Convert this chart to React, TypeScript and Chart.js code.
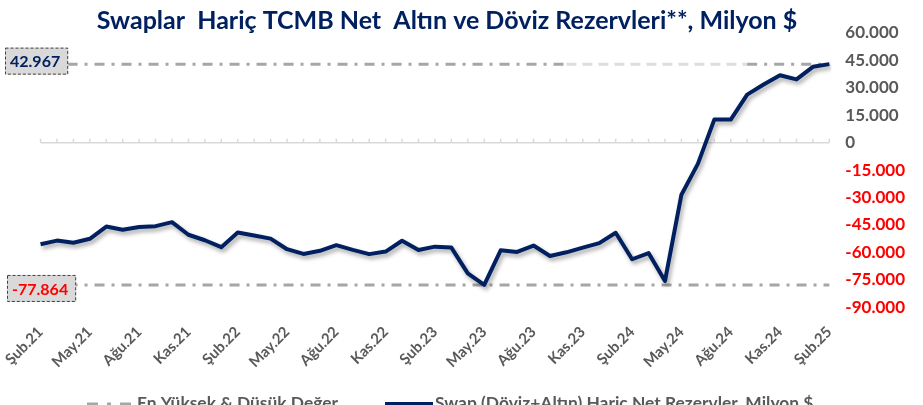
import React, { useEffect, useRef } from 'react';
import { Chart, registerables } from 'chart.js';

Chart.register(...registerables);

const categories: string[] = [
  'Şub.21', 'Mar.21', 'Nis.21', 'May.21', 'Haz.21', 'Tem.21', 'Ağu.21', 'Eyl.21', 'Eki.21', 'Kas.21', 'Ara.21',
  'Oca.22', 'Şub.22', 'Mar.22', 'Nis.22', 'May.22', 'Haz.22', 'Tem.22', 'Ağu.22', 'Eyl.22', 'Eki.22', 'Kas.22', 'Ara.22',
  'Oca.23', 'Şub.23', 'Mar.23', 'Nis.23', 'May.23', 'Haz.23', 'Tem.23', 'Ağu.23', 'Eyl.23', 'Eki.23', 'Kas.23', 'Ara.23',
  'Oca.24', 'Şub.24', 'Mar.24', 'Nis.24', 'May.24', 'Haz.24', 'Tem.24', 'Ağu.24', 'Eyl.24', 'Eki.24', 'Kas.24', 'Ara.24',
  'Oca.25', 'Şub.25',
];

const netReserves: number[] = [
  -55600, -53600, -54800, -52600, -45900, -47700, -46200, -45700, -43500, -50400, -53400,
  -57200, -49200, -50800, -52500, -58300, -60900, -59200, -56100, -58700, -61000, -59600, -53700,
  -58700, -56900, -57400, -71500, -77864, -58900, -59800, -56300, -62000, -60000, -57400, -55000,
  -49300, -63800, -60400, -75700, -28500, -11600, 12600, 12600, 26300, 31800, 36900, 34600,
  41500, 42967,
];

const yTicks: number[] = [60000, 45000, 30000, 15000, 0, -15000, -30000, -45000, -60000, -75000, -90000];

const TITLE = 'Swaplar  Hariç TCMB Net  Altın ve Döviz Rezervleri**, Milyon $';
const LEGEND_EXTREMES = 'En Yüksek & Düşük Değer';
const LEGEND_SERIES = 'Swap (Döviz+Altın) Hariç Net Rezervler, Milyon $';

const maxValue = Math.max(...netReserves);
const minValue = Math.min(...netReserves);
const maxLine = categories.map(() => maxValue);
const minLine = categories.map(() => minValue);

const NAVY = '#002060';
const GRAY_TXT = '#595959';
const REF_GRAY = '#A6A6A6';
const FONT = 'Lato, "Liberation Sans", sans-serif';
const DASH_DOT = [10, 7, 3, 7];

function fmt(v: number): string {
  const s = Math.abs(v).toString().replace(/\B(?=(\d{3})+(?!\d))/g, '.');
  return (v < 0 ? '-' : '') + s;
}

const zeroAxisPlugin = {
  id: 'zeroAxis',
  beforeDatasetsDraw(chart: any) {
    const { ctx, chartArea, scales } = chart;
    const y0 = scales.y.getPixelForValue(0);
    ctx.save();
    ctx.strokeStyle = '#D9D9D9';
    ctx.lineWidth = 1.5;
    ctx.beginPath();
    ctx.moveTo(chartArea.left, y0);
    ctx.lineTo(chartArea.right, y0);
    for (let i = 0; i < categories.length; i++) {
      const x = scales.x.getPixelForValue(i);
      ctx.moveTo(x, y0);
      ctx.lineTo(x, y0 - 4);
    }
    ctx.stroke();
    ctx.restore();
  },
};

const shadowPlugin = {
  id: 'lineShadow',
  beforeDatasetDraw(chart: any, args: any) {
    if (args.index !== 0) return;
    const ctx = chart.ctx;
    ctx.save();
    ctx.shadowColor = 'rgba(0,0,0,0.35)';
    ctx.shadowBlur = 4;
    ctx.shadowOffsetX = 2;
    ctx.shadowOffsetY = 3;
  },
  afterDatasetDraw(chart: any, args: any) {
    if (args.index !== 0) return;
    chart.ctx.restore();
  },
};

const boxesPlugin = {
  id: 'valueBoxes',
  afterDatasetsDraw(chart: any) {
    const { ctx, scales } = chart;
    const items = [
      { v: maxValue, color: NAVY, left: 5, dy: -3 },
      { v: minValue, color: '#FF0000', left: 7, dy: 3.5 },
    ];
    ctx.save();
    ctx.font = `bold 16px ${FONT}`;
    for (const it of items) {
      const y = scales.y.getPixelForValue(it.v) + it.dy;
      const text = fmt(it.v);
      const w = ctx.measureText(text).width + 13;
      const h = 27;
      ctx.fillStyle = '#D9D9D9';
      ctx.fillRect(it.left, y - h / 2, w, h);
      ctx.setLineDash([3, 2]);
      ctx.strokeStyle = '#404040';
      ctx.lineWidth = 1;
      ctx.strokeRect(it.left + 0.5, y - h / 2 + 0.5, w - 1, h - 1);
      ctx.setLineDash([]);
      ctx.fillStyle = it.color;
      ctx.textAlign = 'left';
      ctx.textBaseline = 'middle';
      ctx.fillText(text, it.left + 5, y + 1);
    }
    ctx.restore();
  },
};

const titleLegendPlugin = {
  id: 'titleLegend',
  afterDraw(chart: any) {
    const ctx = chart.ctx;
    ctx.save();
    ctx.font = `bold 25px ${FONT}`;
    ctx.fillStyle = NAVY;
    ctx.textAlign = 'center';
    ctx.textBaseline = 'alphabetic';
    ctx.fillText(TITLE, 447, 29);

    // legend
    ctx.lineWidth = 3;
    ctx.strokeStyle = REF_GRAY;
    ctx.setLineDash([11, 9, 4, 9]);
    ctx.beginPath();
    ctx.moveTo(87, 404);
    ctx.lineTo(132, 404);
    ctx.stroke();
    ctx.setLineDash([]);
    ctx.lineWidth = 5;
    ctx.strokeStyle = NAVY;
    ctx.beginPath();
    ctx.moveTo(385, 404.5);
    ctx.lineTo(433, 404.5);
    ctx.stroke();

    ctx.font = `bold 17.4px ${FONT}`;
    ctx.fillStyle = GRAY_TXT;
    ctx.textAlign = 'left';
    ctx.fillText(LEGEND_EXTREMES, 137, 409);
    ctx.fillText(LEGEND_SERIES, 435, 409);
    ctx.restore();
  },
};

export default function App() {
  const canvasRef = useRef<HTMLCanvasElement | null>(null);

  useEffect(() => {
    if (!canvasRef.current) return;
    const chart = new Chart(canvasRef.current, {
      type: 'line',
      data: {
        labels: categories,
        datasets: [
          {
            label: LEGEND_SERIES,
            data: netReserves,
            borderColor: NAVY,
            borderWidth: 4,
            pointRadius: 0,
            tension: 0,
            fill: false,
            borderJoinStyle: 'round',
          },
          {
            label: 'max',
            data: maxLine,
            borderColor: REF_GRAY,
            borderWidth: 3,
            borderDash: DASH_DOT,
            pointRadius: 0,
            fill: false,
            segment: {
              borderColor: (c: any) => (c.p0DataIndex >= 32 && c.p0DataIndex < 43 ? '#DDDDDD' : undefined),
              borderDash: (c: any) => (c.p0DataIndex >= 32 && c.p0DataIndex < 43 ? [10, 6] : undefined),
            },
          },
          {
            label: 'min',
            data: minLine,
            borderColor: REF_GRAY,
            borderWidth: 3,
            borderDash: DASH_DOT,
            pointRadius: 0,
            fill: false,
          },
        ],
      },
      options: {
        animation: false,
        responsive: false,
        layout: { padding: { left: 37, right: 2, top: 33, bottom: 26 } },
        plugins: {
          legend: { display: false },
          title: { display: false },
          tooltip: { enabled: false },
        },
        scales: {
          x: {
            grid: { display: false },
            border: { display: false },
            ticks: {
              autoSkip: false,
              maxRotation: 45,
              minRotation: 45,
              padding: 8,
              color: GRAY_TXT,
              font: { family: FONT, size: 15, weight: 'bold' },
              callback: (_v: any, i: number) => (i % 3 === 0 ? categories[i] : ''),
            },
          },
          y: {
            position: 'right',
            min: -90000,
            max: 60000,
            afterBuildTicks: (axis: any) => {
              axis.ticks = yTicks.map((v) => ({ value: v }));
            },
            grid: { display: false, drawTicks: false },
            border: { display: false },
            ticks: {
              padding: 16,
              color: (c: any) => (c.tick && c.tick.value < 0 ? '#FF0000' : GRAY_TXT),
              font: { family: FONT, size: 17, weight: 'bold' },
              callback: (v: any) => fmt(Number(v)),
            },
          },
        },
      },
      plugins: [zeroAxisPlugin, shadowPlugin, boxesPlugin, titleLegendPlugin],
    } as any);
    return () => chart.destroy();
  }, []);

  return (
    <div style={{ position: 'fixed', left: 0, top: 0, width: 923, height: 405, background: '#fff' }}>
      <canvas ref={canvasRef} width={923} height={405} />
    </div>
  );
}
